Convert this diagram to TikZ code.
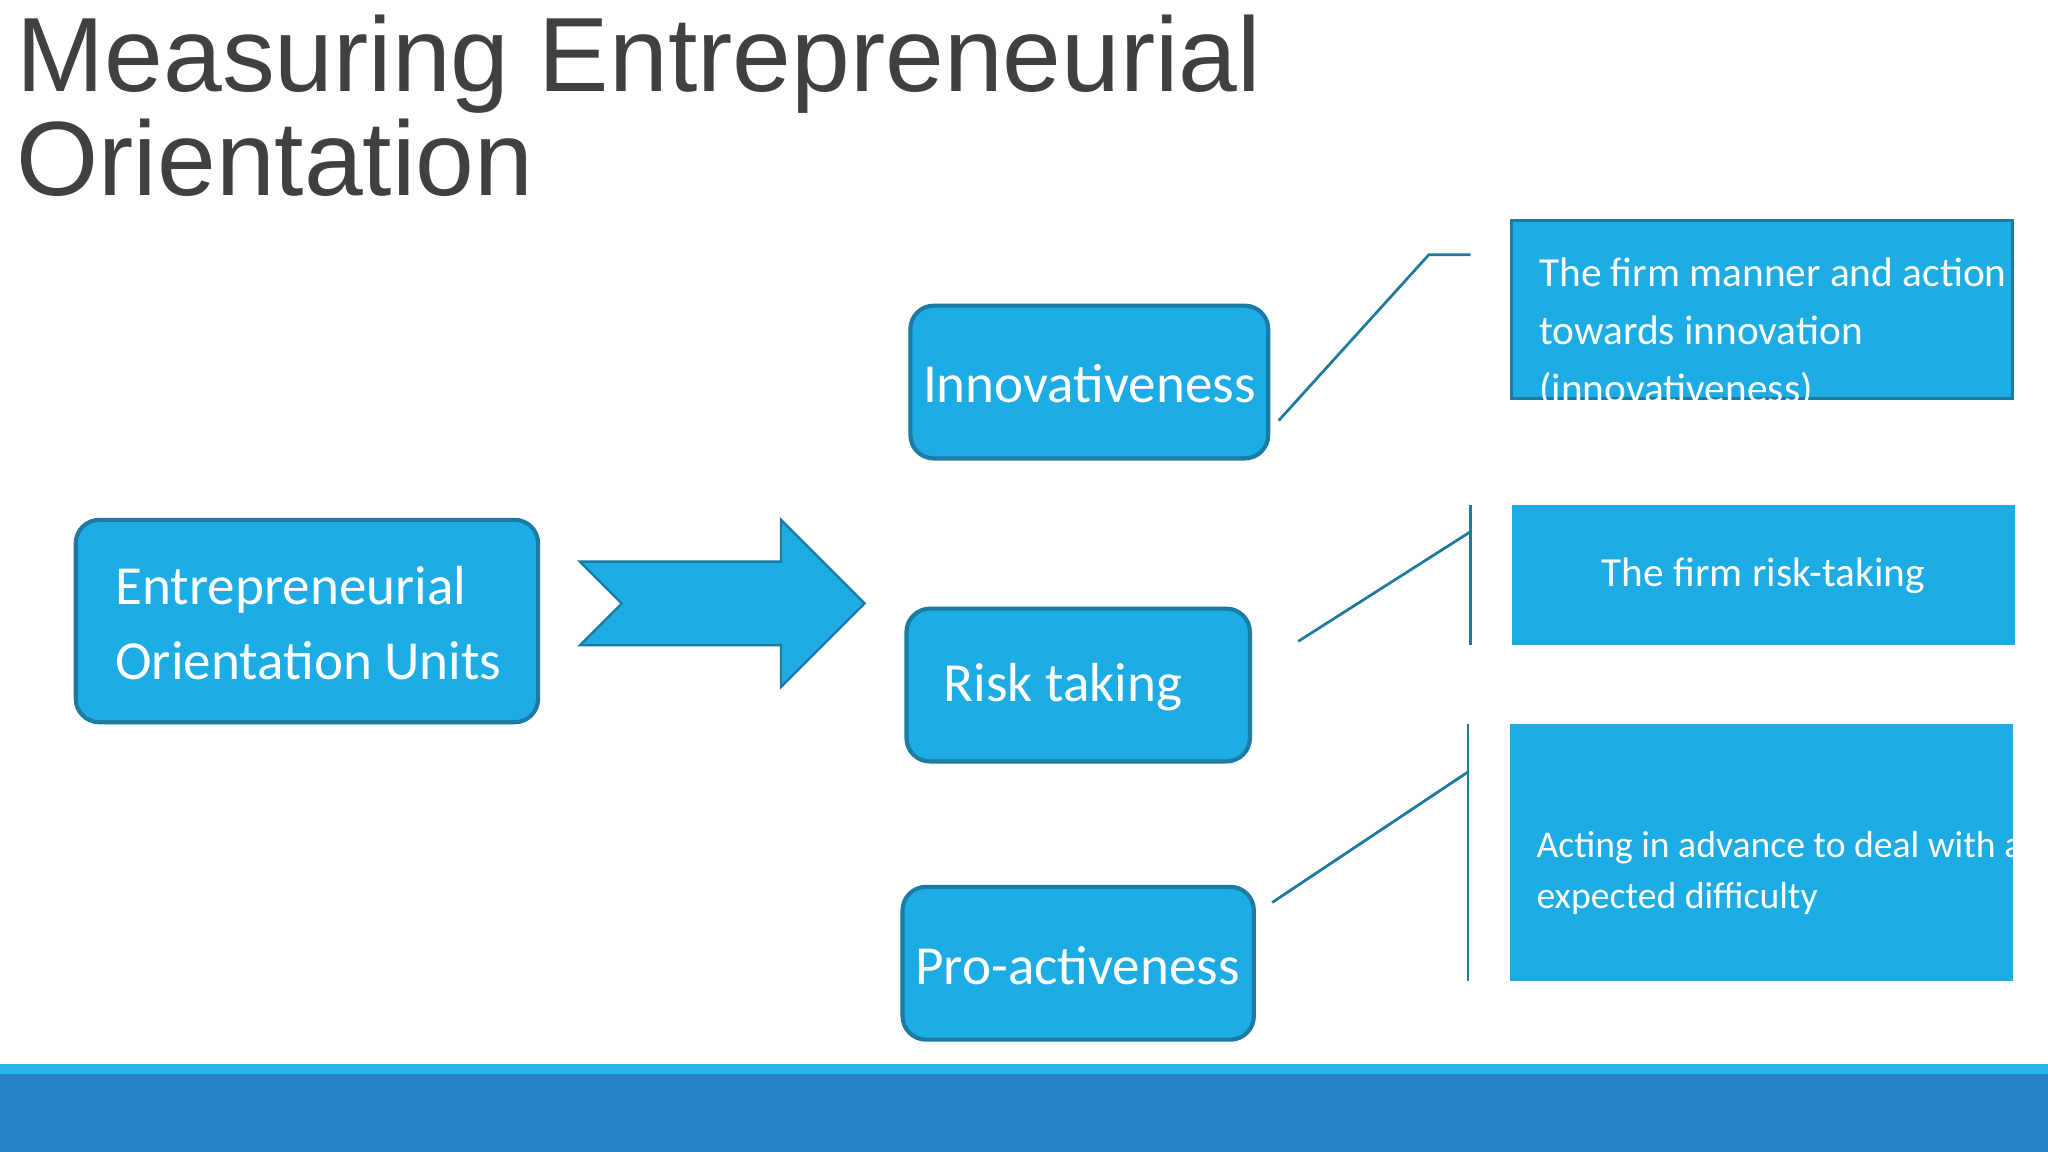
\documentclass[tikz,border=0pt]{standalone}
\usepackage{fontspec}
\setmainfont{Carlito}
\newfontfamily\titlefont{Liberation Sans}
\definecolor{boxblue}{HTML}{1DADE4}
\definecolor{edgeblue}{HTML}{1B7BA3}
\definecolor{linec}{HTML}{1F7A9E}
\definecolor{band}{HTML}{2683C6}
\definecolor{bandlight}{HTML}{29B5E8}
\definecolor{titlec}{HTML}{404040}
\tikzset{
 rbox/.style={draw=edgeblue,line width=0.9pt,fill=boxblue,rounded corners=0.18cm},
 sbox/.style={draw=edgeblue,line width=0.6pt,fill=boxblue},
 wtext/.style={text=white,font=\fontsize{10}{12}\selectfont},
 stext/.style={text=white,font=\fontsize{7.4}{10}\selectfont},
 conn/.style={draw=linec,line width=0.6pt}
}
\begin{document}
\begin{tikzpicture}[x=0.01cm,y=-0.01cm]
\useasboundingbox (0,0) rectangle (1568,882);
\fill[white] (0,0) rectangle (1568,882);
% title
\node[anchor=base west,inner sep=0,text=titlec,font=\titlefont\fontsize{23}{27}\selectfont] (t1) at (12,70) {Measuring Entrepreneurial};
\node[anchor=base west,inner sep=0,text=titlec,font=\titlefont\fontsize{23}{27}\selectfont] (t2) at (12,150) {Orientation};
% bands
\fill[bandlight] (0,815) rectangle (1568,822);
\fill[band] (0,822) rectangle (1568,882);
% EO box
\draw[rbox] (58,398) rectangle (412,553);
\node[wtext,anchor=west,align=left,font=\fontsize{12}{16.5}\selectfont] (eo) at (76,477) {Entrepreneurial\\Orientation Units};
% arrow
\draw[fill=boxblue,draw=edgeblue,line width=0.5pt] (444,430)--(598,430)--(598,398)--(662,462)--(598,526)--(598,494)--(444,494)--(476,462)--cycle;
% middle boxes
\draw[rbox] (697,234) rectangle (971,351);
\node[wtext,font=\fontsize{12}{14}\selectfont] (inn) at (834,294) {Innovativeness};
\draw[rbox] (694,466) rectangle (957,583);
\node[wtext,anchor=west,font=\fontsize{12}{14}\selectfont] (risk) at (710,526) {Risk taking};
\draw[rbox] (691,679) rectangle (960,796);
\node[wtext,font=\fontsize{12}{14}\selectfont] (pro) at (825,739) {Pro-activeness};
% connectors
\coordinate (a1) at (979,322); \coordinate (a2) at (1094,195); \coordinate (a3) at (1126,195);
\draw[conn] (a1)--(a2)--(a3);
\coordinate (b1) at (994,491); \coordinate (b2) at (1126,407);
\coordinate (b3) at (1126,387); \coordinate (b4) at (1126,494);
\draw[conn] (b1)--(b2); \draw[conn] (b3)--(b4);
\coordinate (c1) at (974,691); \coordinate (c2) at (1124,591);
\coordinate (c3) at (1124,554); \coordinate (c4) at (1124,751);
\draw[conn] (c1)--(c2); \draw[conn] (c3)--(c4);
% right boxes
\draw[sbox] (1157,169) rectangle (1541,305);
\node[stext,anchor=north west,align=left,font=\fontsize{9}{12.6}\selectfont] (d1) at (1166,185) {The firm manner and action\\towards innovation\\(innovativeness)};
\fill[boxblue] (1158,387) rectangle (1543,494);
\node[stext,font=\fontsize{9}{11}\selectfont] (d2) at (1350,441) {The firm risk-taking};
\fill[boxblue] (1156,554) rectangle (1541,751);
\node[stext,anchor=north west,align=left,font=\fontsize{8.2}{11.2}\selectfont] (d3) at (1164,624) {Acting in advance to deal with an\\expected difficulty};
\end{tikzpicture}
\end{document}
